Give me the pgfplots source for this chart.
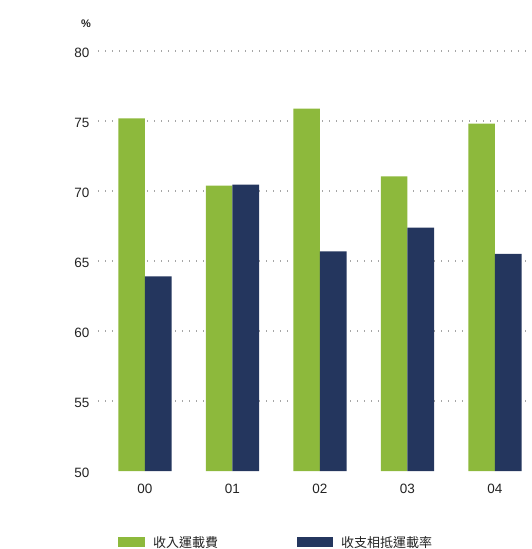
\documentclass[border=0pt]{standalone}
\usepackage{fontspec}
\setmainfont{Liberation Sans}
\newfontfamily\cjk{Noto Sans CJK TC}
\usepackage{pgfplots}
\pgfplotsset{compat=1.18}
\definecolor{barGreen}{RGB}{141,185,60}
\definecolor{barNavy}{RGB}{36,54,94}
\definecolor{tickText}{RGB}{35,35,35}
\begin{document}
\begin{tikzpicture}
\path[use as bounding box] (0,0) rectangle (532bp,549bp);
\begin{axis}[
  at={(98bp,78bp)}, anchor=south west,
  scale only axis, width=434bp, height=420bp,
  xmin=-0.537, xmax=4.423, ymin=50, ymax=80,
  axis line style={draw=none},
  ybar, bar width=0.305,
  xtick={0,1,2,3,4}, xticklabels={00,01,02,03,04},
  ytick={55,60,65,70,75,80},
  extra y ticks={50}, extra y tick style={grid=none},
  major tick length=0pt,
  ymajorgrids=true,
  y grid style={draw=gray!70, line width=1.1bp, dash pattern=on 1.2bp off 5.8bp},
  /pgf/number format/assume math mode=true,
  tick label style={font=\fontsize{13.5bp}{15bp}\selectfont, text=tickText},
  yticklabel style={anchor=east, xshift=-5bp, yshift=-2bp},
  xticklabel style={anchor=north, yshift=-10bp},
  legend columns=2,
  legend style={at={(axis description cs:0.0461,-0.170)}, anchor=west,
    draw=none, fill=none, inner sep=0pt, outer sep=0pt,
    font=\cjk\fontsize{13bp}{15bp}\selectfont,
    nodes={inner sep=0pt, text=tickText},
    /tikz/every odd column/.append style={column sep=8bp},
    /tikz/every even column/.append style={column sep=79bp}},
  legend cell align=left,
  clip=false,
]
\addplot[fill=barGreen, draw=none, bar shift=-0.1525,
  legend image code/.code={\fill[barGreen] (0bp,-5bp) rectangle (27bp,5bp);}]
  coordinates {(0,75.18) (1,70.38) (2,75.88) (3,71.05) (4,74.81)};
\addplot[fill=barNavy, draw=none, bar shift=0.1525,
  legend image code/.code={\fill[barNavy] (0bp,-5bp) rectangle (36bp,5bp);}]
  coordinates {(0,63.9) (1,70.45) (2,65.68) (3,67.38) (4,65.5)};
\legend{收入運載費, 收支相抵運載率}
\node[font=\fontsize{11bp}{13bp}\selectfont\bfseries, text=tickText] at (axis description cs:-0.0276,1.0640) {\%};
\end{axis}
\end{tikzpicture}
\end{document}
